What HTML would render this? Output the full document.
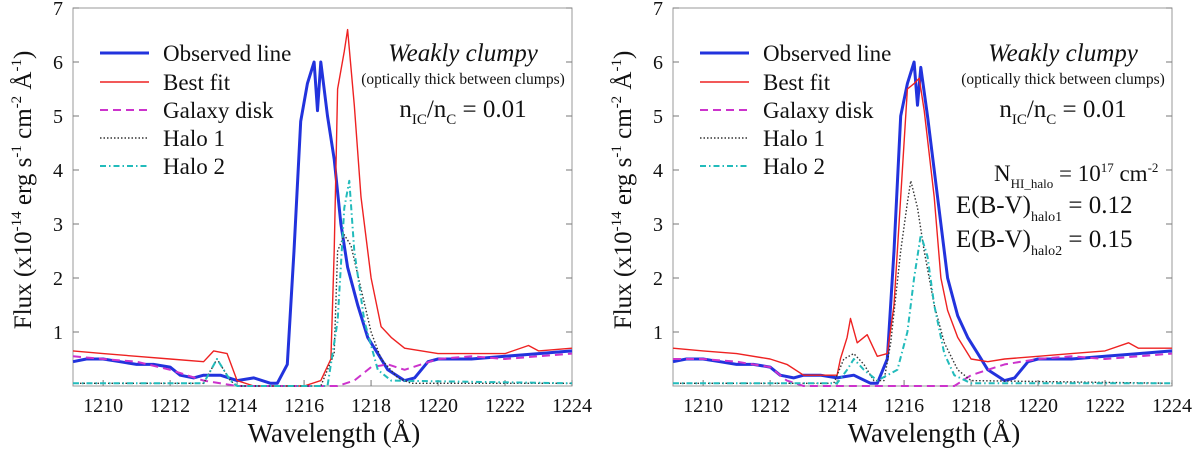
<!DOCTYPE html>
<html><head><meta charset="utf-8"><style>
html,body{margin:0;padding:0;background:#fff;}
svg{display:block;font-family:"Liberation Serif",serif;}
</style></head><body>
<svg id="fig" width="1200" height="452" viewBox="0 0 1200 452"></svg>
<script>
const xTicks=[1210,1212,1214,1216,1218,1220,1222,1224];
const yTicks=[1,2,3,4,5,6,7];
const legendLabels=["Observed line","Best fit","Galaxy disk","Halo 1","Halo 2"];
// Left panel
const L_obsX=[1209.1,1209.5,1210,1210.5,1211,1211.5,1212,1212.3,1212.7,1213,1213.5,1214,1214.5,1215,1215.2,1215.5,1215.7,1215.9,1216.1,1216.3,1216.4,1216.5,1216.7,1216.9,1217.1,1217.3,1217.6,1217.9,1218.2,1218.5,1219,1219.3,1219.7,1220,1221,1222,1223,1224];
const L_obsY=[0.45,0.5,0.5,0.45,0.4,0.4,0.35,0.2,0.15,0.2,0.2,0.1,0.15,0.05,0.05,0.4,2.5,4.9,5.6,6.0,5.1,6.0,5.0,4.2,3.0,2.2,1.5,0.9,0.6,0.3,0.1,0.15,0.45,0.5,0.5,0.55,0.6,0.65];
const L_fitX=[1209.1,1210,1211,1212,1213,1213.3,1213.7,1214,1214.5,1215,1216,1216.5,1216.8,1216.9,1217.0,1217.2,1217.3,1217.5,1217.7,1218,1218.3,1218.6,1219,1220,1221,1222,1222.7,1223,1224];
const L_fitY=[0.65,0.6,0.55,0.5,0.45,0.65,0.6,0.1,0,0,0,0.1,0.5,2.5,5.5,6.2,6.6,5.2,3.5,2.0,1.1,0.9,0.7,0.6,0.6,0.6,0.75,0.65,0.7];
const L_diskX=[1209.1,1210,1211,1212,1213,1214,1217,1217.5,1218,1218.5,1219,1219.5,1220,1221,1222,1223,1224];
const L_diskY=[0.55,0.5,0.45,0.3,0.1,0,0,0.1,0.35,0.4,0.3,0.4,0.5,0.55,0.5,0.55,0.6];
const L_h1X=[1209.1,1213,1213.4,1213.8,1214,1216.5,1216.9,1217.0,1217.2,1217.4,1217.7,1218,1218.3,1218.8,1219.2,1224];
const L_h1Y=[0.05,0.05,0.5,0.1,0,0,0.6,2.5,2.8,2.6,1.8,1.0,0.5,0.15,0.05,0.05];
const L_h2X=[1209.1,1213,1213.4,1213.8,1214,1216.7,1217.0,1217.2,1217.35,1217.5,1217.8,1218.2,1218.6,1224];
const L_h2Y=[0.05,0.05,0.5,0.1,0,0,1.2,3.3,3.8,2.5,1.2,0.3,0.1,0.05];
// Right panel
const R_obsX=[1209.1,1209.5,1210,1210.5,1211,1211.5,1212,1212.3,1212.7,1213,1213.5,1214,1214.5,1215,1215.2,1215.5,1215.7,1215.9,1216.1,1216.3,1216.4,1216.5,1216.7,1216.9,1217.1,1217.3,1217.6,1217.9,1218.2,1218.5,1219,1219.3,1219.7,1220,1221,1222,1223,1224];
const R_obsY=[0.45,0.5,0.5,0.45,0.4,0.4,0.35,0.2,0.15,0.2,0.2,0.15,0.2,0.05,0.05,0.5,2.5,5.0,5.6,6.0,5.2,5.9,5.0,4.0,3.0,2.0,1.3,0.9,0.6,0.3,0.1,0.15,0.45,0.5,0.5,0.55,0.6,0.65];
const R_fitX=[1209.1,1210,1211,1212,1212.5,1213,1214,1214.1,1214.3,1214.4,1214.6,1214.9,1215.2,1215.5,1215.7,1215.9,1216.1,1216.3,1216.45,1216.6,1216.9,1217.1,1217.3,1217.6,1218,1218.5,1219,1220,1221,1222,1222.7,1223,1224];
const R_fitY=[0.7,0.65,0.6,0.5,0.4,0.2,0.2,0.5,0.9,1.25,0.8,0.95,0.55,0.6,1.5,3.5,5.5,5.6,5.7,5.1,3.5,2.0,1.4,0.9,0.5,0.45,0.5,0.55,0.6,0.65,0.8,0.7,0.7];
const R_diskX=[1209.1,1210,1211,1212,1212.5,1213,1217.5,1218,1218.5,1219,1220,1221,1222,1223,1224];
const R_diskY=[0.5,0.5,0.45,0.35,0.1,0,0,0.2,0.3,0.4,0.5,0.55,0.5,0.55,0.6];
const R_h1X=[1209.1,1213.9,1214.2,1214.5,1214.8,1215.1,1215.4,1215.6,1215.9,1216.1,1216.2,1216.4,1216.6,1216.9,1217.2,1217.6,1218,1224];
const R_h1Y=[0.05,0.05,0.5,0.6,0.4,0.1,0.1,0.8,2.5,3.4,3.8,3.3,2.5,1.5,0.8,0.3,0.1,0.05];
const R_h2X=[1209.1,1214,1214.3,1214.5,1214.8,1215.2,1215.8,1216.1,1216.3,1216.5,1216.7,1216.9,1217.2,1217.5,1218,1224];
const R_h2Y=[0.05,0.05,0.3,0.5,0.3,0.1,0.3,1.0,2.0,2.8,2.4,1.5,0.6,0.2,0.05,0.05];

const NS="http://www.w3.org/2000/svg";
const svg=document.getElementById('fig');
function mk(tag,attrs,parent,text){const e=document.createElementNS(NS,tag);for(const k in attrs)e.setAttribute(k,attrs[k]);if(text!==undefined)e.textContent=text;(parent||svg).appendChild(e);return e;}

const styles=[
 {stroke:"#2233dd",w:3,dash:""},
 {stroke:"#ee2222",w:1.4,dash:""},
 {stroke:"#cc33cc",w:2,dash:"8,5"},
 {stroke:"#333333",w:1.4,dash:"1.5,2"},
 {stroke:"#22bbbb",w:2,dash:"6,3,1.5,3"}
];

function panel(ox,data,name,right){
  const g=mk('g',{},svg);
  
  
  const x0=ox+73,x1=ox+572,y0=8,y1=386;
  const xs=v=>x0+(v-1209.1)/(1224-1209.1)*(x1-x0);
  const ys=v=>y1-v/7*(y1-y0);
  const frame=mk('rect',{x:x0,y:y0,width:x1-x0,height:y1-y0,fill:"none",stroke:"#999","stroke-width":1},g);
  
  
  xTicks.forEach(t=>{
    const X=xs(t);
    mk('line',{x1:X,y1:y1,x2:X,y2:y1-6,stroke:"#777"},g);
    const tx=mk('text',{x:X,y:412,"font-size":20,"text-anchor":"middle",fill:"#111"},g,String(t));
    
    
  });
  yTicks.forEach(t=>{
    const Y=ys(t);
    mk('line',{x1:x0,y1:Y,x2:x0+6,y2:Y,stroke:"#777"},g);
    mk('line',{x1:x1,y1:Y,x2:x1-6,y2:Y,stroke:"#777"},g);
    const tx=mk('text',{x:x0-10,y:Y+7,"font-size":20,"text-anchor":"end",fill:"#111"},g,String(t));
    
    
  });
  data.forEach((s,i)=>{
    const st=styles[i];
    const d=s[0].map((v,j)=>(j?'L':'M')+xs(v).toFixed(1)+','+ys(s[1][j]).toFixed(1)).join(' ');
    const p=mk('path',{d:d,fill:"none",stroke:st.stroke,"stroke-width":st.w,"stroke-dasharray":st.dash,"stroke-linejoin":"round"},g);
    
    
  });
  legendLabels.forEach((lab,i)=>{
    const st=styles[i];const Y=[61,90,118,146,174][i];
    const l=mk('line',{x1:ox+100,y1:Y-8,x2:ox+149,y2:Y-8,stroke:st.stroke,"stroke-width":st.w,"stroke-dasharray":st.dash},g);
    
    
    const t=mk('text',{x:ox+163,y:Y,"font-size":23,fill:"#111"},g,lab);
    
    
  });
  const cx=ox+463;
  const a=mk('text',{x:cx,y:61,"font-size":25,"font-style":"italic","text-anchor":"middle",fill:"#111"},g,"Weakly clumpy");
  
  const b=mk('text',{x:cx,y:84,"font-size":15.5,"text-anchor":"middle",fill:"#111"},g,"(optically thick between clumps)");
  
  const c=mk('text',{x:cx,y:117,"font-size":25,"text-anchor":"middle",fill:"#111"},g);
  c.innerHTML='n<tspan font-size="15" dy="7">IC</tspan><tspan dy="-7">/n</tspan><tspan font-size="15" dy="7">C</tspan><tspan dy="-7"> = 0.01</tspan>';
  
  if(right){
    const t1=mk('text',{x:ox+394,y:181,"font-size":23,fill:"#111"},g);
    t1.innerHTML='N<tspan font-size="13" dy="7">HI_halo</tspan><tspan dy="-7"> = 10</tspan><tspan font-size="13" dy="-9">17</tspan><tspan dy="9"> cm</tspan><tspan font-size="13" dy="-9">-2</tspan>';
    
    const t2=mk('text',{x:ox+356,y:213,"font-size":25,fill:"#111"},g);
    t2.innerHTML='E(B-V)<tspan font-size="14" dy="8">halo1</tspan><tspan dy="-8"> = 0.12</tspan>';
    
    const t3=mk('text',{x:ox+356,y:247,"font-size":25,fill:"#111"},g);
    t3.innerHTML='E(B-V)<tspan font-size="14" dy="8">halo2</tspan><tspan dy="-8"> = 0.15</tspan>';
    
  }
  const xt=mk('text',{x:ox+334,y:442,"font-size":27,"text-anchor":"middle",fill:"#111"},g,"Wavelength (Å)");
  
  const yt=mk('text',{x:0,y:0,"font-size":25,"text-anchor":"middle",fill:"#111",transform:`translate(${ox+31},${190}) rotate(-90)`},g);
  yt.innerHTML='Flux (x10<tspan font-size="15" dy="-10">-14</tspan><tspan dy="10"> erg s</tspan><tspan font-size="15" dy="-10">-1</tspan><tspan dy="10"> cm</tspan><tspan font-size="15" dy="-10">-2</tspan><tspan dy="10"> Å</tspan><tspan font-size="15" dy="-10">-1</tspan><tspan dy="10">)</tspan>';
  
}
panel(0,[[L_obsX,L_obsY],[L_fitX,L_fitY],[L_diskX,L_diskY],[L_h1X,L_h1Y],[L_h2X,L_h2Y]],'left-panel',false);
panel(600,[[R_obsX,R_obsY],[R_fitX,R_fitY],[R_diskX,R_diskY],[R_h1X,R_h1Y],[R_h2X,R_h2Y]],'right-panel',true);
</script>
</body></html>
